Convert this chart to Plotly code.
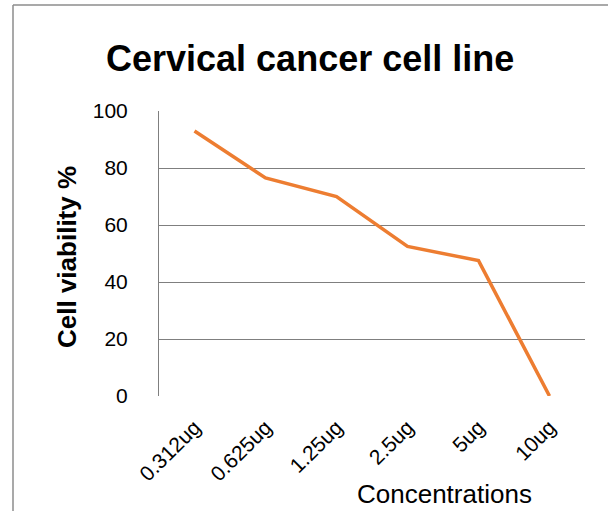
import plotly.graph_objects as go

concentrations = ["0.312ug", "0.625ug", "1.25ug", "2.5ug", "5ug", "10ug"]
viability = [93.0, 76.5, 70.0, 52.5, 47.5, 0.0]
y_ticks = [0, 20, 40, 60, 80, 100]

title_text = "Cervical cancer cell line"
y_title = "Cell viability %"
x_title = "Concentrations"

fig = go.Figure()
fig.add_trace(go.Scatter(
    x=list(range(len(concentrations))), y=viability, mode="lines",
    line=dict(color="#ED7D31", width=3.5), hoverinfo="skip", showlegend=False,
))

W, H = 608, 511
L, R, T, B = 159, 23, 111, 115
pw, ph = W - L - R, H - T - B

def px(x):
    return (x - L) / pw

def py(y):
    return (H - B - y) / ph

fig.update_layout(
    width=W, height=H,
    margin=dict(l=L, r=R, t=T, b=B, pad=0),
    paper_bgcolor="white", plot_bgcolor="white",
    font=dict(family="Liberation Sans, Arial, sans-serif", color="black"),
    xaxis=dict(
        range=[-0.5, len(concentrations) - 0.5],
        tickmode="array", tickvals=list(range(len(concentrations))),
        ticktext=concentrations, tickangle=-45,
        tickfont=dict(size=21), showgrid=False, zeroline=False,
        showline=False, ticks="", ticklabelstandoff=14,
    ),
    yaxis=dict(
        range=[0, 100], tickmode="array", tickvals=y_ticks,
        tickfont=dict(size=21), showgrid=True, gridcolor="#7f7f7f",
        gridwidth=1, zeroline=False, showline=True, linecolor="#7f7f7f",
        linewidth=1, ticks="", ticklabelstandoff=26,
    ),
    annotations=[
        dict(text="<b>" + title_text + "</b>", x=px(310), y=py(58),
             xref="paper", yref="paper", showarrow=False,
             font=dict(size=36), xanchor="center", yanchor="middle"),
        dict(text="<b>" + y_title + "</b>", x=px(67), y=py(257),
             xref="paper", yref="paper", showarrow=False, textangle=-90,
             font=dict(size=26), xanchor="center", yanchor="middle"),
        dict(text=x_title, x=px(444), y=py(494),
             xref="paper", yref="paper", showarrow=False,
             font=dict(size=26), xanchor="center", yanchor="middle"),
    ],
    shapes=[
        dict(type="line", xref="paper", yref="paper",
             x0=px(13), x1=px(13), y0=py(5), y1=py(520),
             line=dict(color="#8c8c8c", width=1.5)),
        dict(type="line", xref="paper", yref="paper",
             x0=px(13), x1=px(620), y0=py(5), y1=py(5),
             line=dict(color="#8c8c8c", width=1.5)),
    ],
)

fig.write_html("out.html", config={"displayModeBar": False},
               post_script="document.body.style.margin='0';document.body.style.padding='0';")
